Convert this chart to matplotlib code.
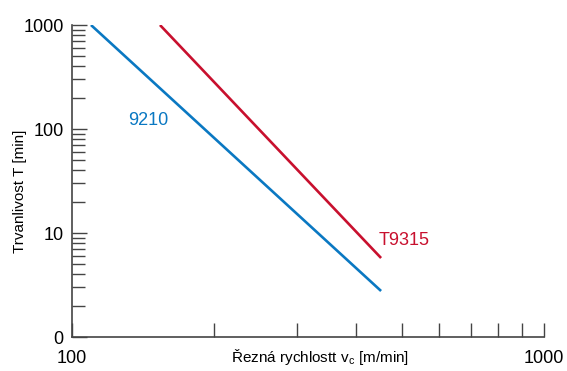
import numpy as np
import matplotlib
matplotlib.use('Agg')
import matplotlib.pyplot as plt
from matplotlib.ticker import FixedLocator, FuncFormatter, NullFormatter

# cutting speed [m/min] vs tool life [min]
vc_9210 = [109.7, 451.7]
t_9210 = [1000, 2.77]
vc_t9315 = [153.6, 451.7]
t_t9315 = [1000, 5.75]

plt.rcParams['font.family'] = ['Liberation Sans', 'DejaVu Sans']

blue = '#0a78c2'
red = '#c8102e'
axis_col = '#444444'

fig = plt.figure(figsize=(5.67, 3.71), dpi=100)
ax = fig.add_axes([0.127, 0.0916, 0.8324, 0.841])

ax.plot(vc_9210, t_9210, color=blue, lw=1.9, solid_capstyle='butt')
ax.plot(vc_t9315, t_t9315, color=red, lw=1.9, solid_capstyle='butt')

ax.set_xscale('log')
ax.set_yscale('log')
ax.set_xlim(100, 1000)
ax.set_ylim(1, 1000)

ax.text(145, 122, '9210', color=blue, fontsize=13, ha='center', va='center')
ax.text(506, 8.4, 'T9315', color=red, fontsize=13, ha='center', va='center')

# ticks
ax.yaxis.set_major_locator(FixedLocator([1, 10, 100, 1000]))
ax.yaxis.set_major_formatter(FuncFormatter(lambda v, p: '0' if v == 1 else '%d' % v))
ax.yaxis.set_minor_locator(FixedLocator([m * d for d in (1, 10, 100) for m in range(2, 10)]))
ax.yaxis.set_minor_formatter(NullFormatter())

ax.xaxis.set_major_locator(FixedLocator([100, 1000]))
ax.xaxis.set_major_formatter(FuncFormatter(lambda v, p: '%d' % v))
ax.xaxis.set_minor_locator(FixedLocator([100 * m for m in range(2, 10)]))
ax.xaxis.set_minor_formatter(NullFormatter())

ax.tick_params(axis='y', which='major', direction='in', length=11, width=1, color=axis_col,
               labelsize=13, pad=6)
ax.tick_params(axis='y', which='minor', direction='in', length=9, width=1, color=axis_col)
ax.tick_params(axis='x', which='both', direction='in', length=10, width=1, color=axis_col,
               labelsize=13, pad=9)

for s in ('top', 'right'):
    ax.spines[s].set_visible(False)
for s in ('left', 'bottom'):
    ax.spines[s].set_color(axis_col)
    ax.spines[s].set_linewidth(1.2)

ax.set_ylabel('Trvanlivost T [min]', fontsize=11)
ax.yaxis.set_label_coords(-0.110, 0.468)
ax.yaxis.label.set_verticalalignment('center')
ax.set_xlabel(r'Řezná rychlostt v$_\mathregular{c}$ [m/min]', fontsize=11)
ax.xaxis.set_label_coords(0.525, -0.065)
ax.xaxis.label.set_verticalalignment('center')

fig.savefig('out.png', dpi=100)
